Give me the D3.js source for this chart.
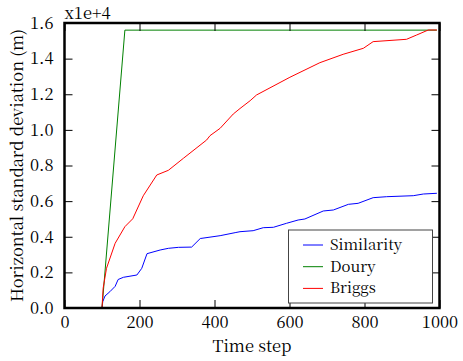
<!DOCTYPE html>
<html>
<head>
<meta charset="utf-8">
<script src="https://cdn.jsdelivr.net/npm/d3@7"></script>
<style>
  html, body { margin: 0; padding: 0; background: #fff; }
</style>
</head>
<body>
<svg id="chart" width="463" height="361"></svg>
<script>
// ---- data (time step, horizontal standard deviation in metres) ----
const seriesNames = ["Similarity", "Doury", "Briggs"];
const seriesColors = ["#0000ff", "#008000", "#ff0000"];

const similarityX = [100, 102, 108, 121, 135, 143, 157, 193, 206, 220, 255, 277, 304, 339, 362, 415, 455, 468, 503, 530, 557, 592, 623, 641, 690, 717, 757, 783, 823, 859, 930, 957, 993];
const similarityY = [0, 354, 674, 915, 1215, 1600, 1723, 1852, 2227, 3050, 3256, 3350, 3406, 3420, 3900, 4060, 4230, 4284, 4340, 4508, 4530, 4755, 4940, 4997, 5446, 5502, 5820, 5877, 6193, 6249, 6305, 6400, 6440];

const douryX = [100, 161, 993];
const douryY = [0, 15600, 15600];

const briggsX = [100, 103, 112, 135, 161, 182, 210, 246, 277, 317, 379, 388, 415, 450, 468, 495, 512, 601, 681, 743, 797, 823, 912, 939, 970, 993];
const briggsY = [0, 1106, 2229, 3632, 4565, 5010, 6300, 7467, 7730, 8404, 9432, 9675, 10088, 10891, 11200, 11638, 11958, 12953, 13772, 14243, 14580, 14954, 15085, 15326, 15607, 15607];

const xTicks = [0, 200, 400, 600, 800, 1000];
const yTicks = [0, 2000, 4000, 6000, 8000, 10000, 12000, 14000, 16000];
const yTickLabels = ["0.0", "0.2", "0.4", "0.6", "0.8", "1.0", "1.2", "1.4", "1.6"];
const yOffsetText = "x1e+4";
const xLabel = "Time step";
const yLabel = "Horizontal standard deviation (m)";

// ---- layout ----
const FONT = "'Noto Serif CJK SC', 'Liberation Serif', serif";
const FS = 16.5;
const svg = d3.select("#chart");
const L = 64.5, R = 439.5, T = 23, B = 308;
const x = d3.scaleLinear().domain([0, 1000]).range([L, R]);
const y = d3.scaleLinear().domain([0, 16000]).range([B, T]);

const series = [
  { name: seriesNames[0], color: seriesColors[0], pts: similarityX.map((v, i) => [v, similarityY[i]]) },
  { name: seriesNames[1], color: seriesColors[1], pts: douryX.map((v, i) => [v, douryY[i]]) },
  { name: seriesNames[2], color: seriesColors[2], pts: briggsX.map((v, i) => [v, briggsY[i]]) }
];

const line = d3.line().x(d => x(d[0])).y(d => y(d[1]));
const plot = svg.append("g");
plot.append("clipPath").attr("id", "clip").append("rect")
  .attr("x", L).attr("y", T).attr("width", R - L).attr("height", B - T);
const lines = plot.append("g").attr("clip-path", "url(#clip)");
series.forEach(s => {
  lines.append("path").datum(s.pts).attr("d", line)
    .attr("fill", "none").attr("stroke", s.color).attr("stroke-width", 1);
});

// ---- axes (ticks inward on all four sides) ----
const tl = 8;
const fmtY = d => yTickLabels[yTicks.indexOf(d)];
const axB = d3.axisBottom(x).tickValues(xTicks).tickSizeInner(-tl).tickSizeOuter(0).tickPadding(tl).tickFormat(d3.format("d"));
const axT = d3.axisTop(x).tickValues(xTicks).tickSizeInner(-tl).tickSizeOuter(0).tickFormat("");
const axL = d3.axisLeft(y).tickValues(yTicks).tickSizeInner(-tl).tickSizeOuter(0).tickPadding(tl + 3).tickFormat(fmtY);
const axR = d3.axisRight(y).tickValues(yTicks).tickSizeInner(-tl).tickSizeOuter(0).tickFormat("");

function style(g) {
  g.attr("font-family", FONT).attr("font-size", FS);
  g.select(".domain").remove();
  g.selectAll(".tick line").attr("stroke", "#000").attr("stroke-width", 1);
  g.selectAll(".tick text").attr("fill", "#000");
}
svg.append("g").attr("transform", `translate(0,${B})`).call(axB).call(style);
svg.append("g").attr("transform", `translate(0,${T})`).call(axT).call(style);
svg.append("g").attr("transform", `translate(${L},0)`).call(axL).call(style);
svg.append("g").attr("transform", `translate(${R},0)`).call(axR).call(style);

// frame
svg.append("rect").attr("x", L).attr("y", T).attr("width", R - L).attr("height", B - T)
  .attr("fill", "none").attr("stroke", "#000").attr("stroke-width", 2.5);

// labels
svg.append("text").attr("x", (L + R) / 2).attr("y", 352).attr("text-anchor", "middle")
  .attr("font-family", FONT).attr("font-size", FS).text(xLabel);
svg.append("text").attr("transform", `translate(23,${(T + B) / 2}) rotate(-90)`)
  .attr("text-anchor", "middle").attr("font-family", FONT).attr("font-size", FS).text(yLabel);
svg.append("text").attr("x", L).attr("y", 19).attr("font-family", FONT).attr("font-size", FS).text(yOffsetText);

// ---- legend ----
const lg = svg.append("g");
lg.append("rect").attr("x", 288.5).attr("y", 230).attr("width", 144).attr("height", 73)
  .attr("fill", "#fff").attr("stroke", "#444").attr("stroke-width", 1);
series.forEach((s, i) => {
  const cy = 245 + i * 21.7;
  lg.append("line").attr("x1", 303).attr("x2", 323).attr("y1", cy).attr("y2", cy)
    .attr("stroke", s.color).attr("stroke-width", 1);
  lg.append("text").attr("x", 330).attr("y", cy + 5).attr("font-family", FONT).attr("font-size", 15).text(s.name);
});
</script>
</body>
</html>
